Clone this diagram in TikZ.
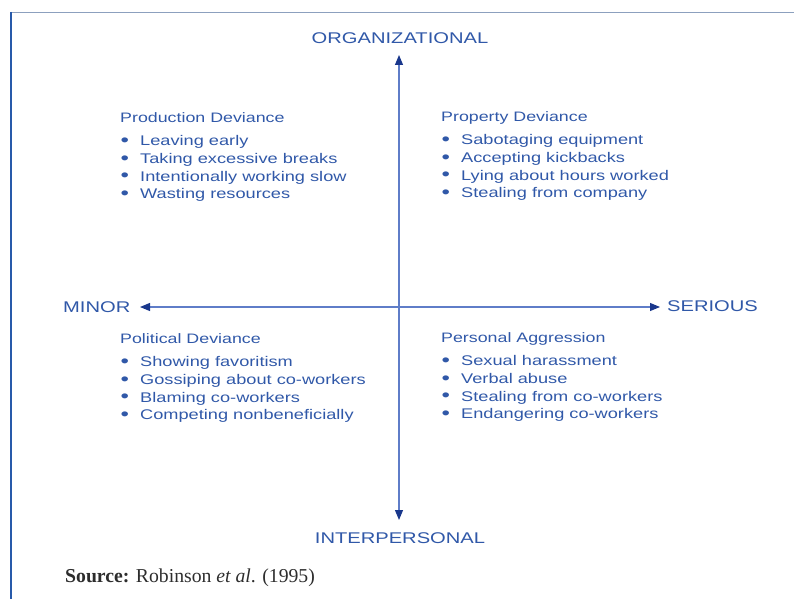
\documentclass[tikz,border=0pt]{standalone}
\usepackage{fontspec}
\setmainfont{Liberation Serif}
\newfontfamily\widesans[FakeStretch=1.3]{Liberation Sans}
\usetikzlibrary{arrows.meta}

\definecolor{dvblue}{RGB}{48,88,168}
\definecolor{axisblue}{RGB}{95,125,200}
\definecolor{tipblue}{RGB}{25,55,140}
\definecolor{frameblue}{RGB}{40,90,170}
\definecolor{framegray}{RGB}{140,160,190}
\definecolor{srcgray}{RGB}{45,45,45}

\tikzset{
  axislabel/.style={text=dvblue, inner sep=0pt, font=\widesans\fontsize{15.5}{18}\selectfont},
  quadrant/.style={anchor=north west, inner sep=0pt, align=left, text=dvblue,
    font=\widesans\fontsize{13.7}{17.7}\selectfont},
  axis/.style={axisblue, line width=1.1pt, -{Triangle[length=10pt,width=8pt,color=tipblue]}}
}
% bullet plus gap before each item
\newcommand{\bul}{\makebox[20pt][l]{\hspace{0.5pt}\raisebox{-0.8pt}{\scalebox{1.35}{\textbullet}}}\fontsize{14}{17.7}\selectfont}

\begin{document}
\begin{tikzpicture}[x=1pt,y=-1pt]
		\useasboundingbox (0,0) rectangle (794,599);
		% frame edges
		\draw[framegray, line width=1pt] (11,13) -- (794,13);
		\draw[frameblue, line width=2.5pt] (11,12) -- (11,599);
		% axis labels
		\node[axislabel] (org) at (400,38) {ORGANIZATIONAL};
		\node[axislabel] (inter) at (400,538) {INTERPERSONAL};
		\node[axislabel, anchor=west] (minor) at (63,307.5) {MINOR};
		\node[axislabel, anchor=west] (serious) at (667,306.5) {SERIOUS};
		\coordinate (top) at (399,55);
		\coordinate (bottom) at (399,520);
		\coordinate (left) at (140,307);
		\coordinate (right) at (660,307);
		\coordinate (centre) at (399,307);
		% the two axes
		\draw[axis] (centre) -- (top);
		\draw[axis] (centre) -- (bottom);
		\draw[axis] (centre) -- (left);
		\draw[axis] (centre) -- (right);
		% quadrants
		\node[quadrant] (prod) at (120,112.5) {Production Deviance\\[5.3pt]
			\bul Leaving early\\
			\bul Taking excessive breaks\\
			\bul Intentionally working slow\\
			\bul Wasting resources};
		\node[quadrant] (prop) at (441,111.5) {Property Deviance\\[5.3pt]
			\bul Sabotaging equipment\\
			\bul Accepting kickbacks\\
			\bul Lying about hours worked\\
			\bul Stealing from company};
		\node[quadrant] (pol) at (120,333.5) {Political Deviance\\[5.3pt]
			\bul Showing favoritism\\
			\bul Gossiping about co-workers\\
			\bul Blaming co-workers\\
			\bul Competing nonbeneficially};
		\node[quadrant] (pers) at (441,332.5) {Personal Aggression\\[5.3pt]
			\bul Sexual harassment\\
			\bul Verbal abuse\\
			\bul Stealing from co-workers\\
			\bul Endangering co-workers};
		% source line
		\node[anchor=west, inner sep=0pt, text=srcgray, font=\fontsize{19.7}{22}\selectfont] (src) at (65,578)
			{\textbf{Source:} Robinson \textit{et al}. (1995)};
\end{tikzpicture}
\end{document}
